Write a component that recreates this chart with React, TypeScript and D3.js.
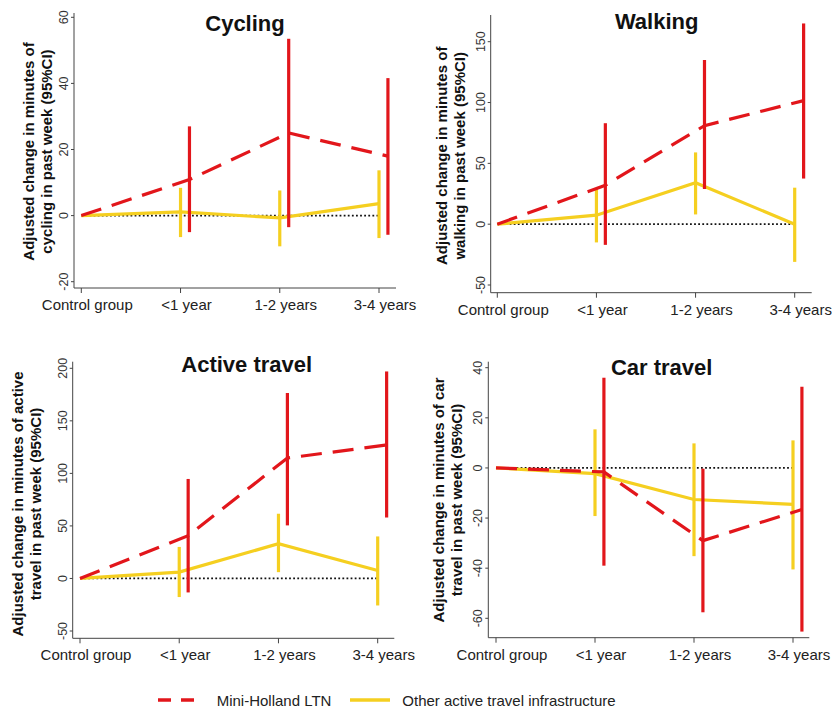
import React from "react";
import * as d3 from "d3";

// categories on the x axis
const categories = ["Control group", "<1 year", "1-2 years", "3-4 years"];

// Cycling
const cyclingMiniEst = [0, 10.9, 25, 18];
const cyclingMiniLo = [0, -5, -3.5, -5.8];
const cyclingMiniHi = [0, 27, 53.5, 41.6];
const cyclingOtherEst = [0, 1.1, -0.7, 3.6];
const cyclingOtherLo = [0, -6.5, -9.3, -6.8];
const cyclingOtherHi = [0, 8.4, 7.6, 13.7];
const cyclingTicks = [-20, 0, 20, 40, 60];

// Walking
const walkingMiniEst = [0, 32, 81, 101.6];
const walkingMiniLo = [0, -17, 29, 37.5];
const walkingMiniHi = [0, 83, 135, 165];
const walkingOtherEst = [0, 7.4, 34, 0];
const walkingOtherLo = [0, -15, 8, -31];
const walkingOtherHi = [0, 29, 59, 30];
const walkingTicks = [-50, 0, 50, 100, 150];

// Active travel
const activeMiniEst = [0, 40.7, 114.6, 127];
const activeMiniLo = [0, -13.3, 50.5, 58];
const activeMiniHi = [0, 94.7, 176.5, 197];
const activeOtherEst = [0, 6, 33, 7.6];
const activeOtherLo = [0, -17.7, 6, -25.7];
const activeOtherHi = [0, 30, 61.6, 40];
const activeTicks = [-50, 0, 50, 100, 150, 200];

// Car travel
const carMiniEst = [0, -1.6, -29, -16.6];
const carMiniLo = [0, -39, -57.6, -65.3];
const carMiniHi = [0, 36, -0.3, 32.4];
const carOtherEst = [0, -2.3, -12.6, -14.5];
const carOtherLo = [0, -19.2, -35.2, -40.5];
const carOtherHi = [0, 15.4, 9.8, 11];
const carTicks = [-60, -40, -20, 0, 20, 40];

const seriesNames = ["Mini-Holland LTN", "Other active travel infrastructure"];

const RED = "#e2161b";
const YELLOW = "#f5cf20";
const FONT = "'Liberation Sans', Arial, sans-serif";
const DODGE = 0.09; // red series drawn slightly right of the category

type Panel = {
  title: string;
  ylab: [string, string];
  ticks: number[];
  miniEst: number[]; miniLo: number[]; miniHi: number[];
  otherEst: number[]; otherLo: number[]; otherHi: number[];
  // layout
  ax: number; ab: number; at: number; ar: number;
  x0: number; x3: number;
  yTop: [number, number]; yBot: [number, number];
  titleX: number; titleY: number;
  labX1: number; labX2: number; labY: number;
};

const panels: Panel[] = [
  {
    title: "Cycling",
    ylab: ["Adjusted change in minutes of", "cycling in past week (95%CI)"],
    ticks: cyclingTicks,
    miniEst: cyclingMiniEst, miniLo: cyclingMiniLo, miniHi: cyclingMiniHi,
    otherEst: cyclingOtherEst, otherLo: cyclingOtherLo, otherHi: cyclingOtherHi,
    ax: 74, ab: 288, at: 13, ar: 396, x0: 81.3, x3: 379,
    yTop: [60, 17.3], yBot: [-20, 281.7],
    titleX: 245, titleY: 30.5, labX1: 33.5, labX2: 51.5, labY: 151.5,
  },
  {
    title: "Walking",
    ylab: ["Adjusted change in minutes of", "walking in past week (95%CI)"],
    ticks: walkingTicks,
    miniEst: walkingMiniEst, miniLo: walkingMiniLo, miniHi: walkingMiniHi,
    otherEst: walkingOtherEst, otherLo: walkingOtherLo, otherHi: walkingOtherHi,
    ax: 490.7, ab: 292.7, at: 15, ar: 811.7, x0: 497.3, x3: 794.7,
    yTop: [150, 41.7], yBot: [-50, 285],
    titleX: 656.7, titleY: 28.5, labX1: 447, labX2: 465, labY: 155.8,
  },
  {
    title: "Active travel",
    ylab: ["Adjusted change in minutes of active", "travel in past week (95%CI)"],
    ticks: activeTicks,
    miniEst: activeMiniEst, miniLo: activeMiniLo, miniHi: activeMiniHi,
    otherEst: activeOtherEst, otherLo: activeOtherLo, otherHi: activeOtherHi,
    ax: 72.7, ab: 638.3, at: 361.7, ar: 394.3, x0: 80, x3: 377.7,
    yTop: [200, 368.3], yBot: [-50, 631],
    titleX: 246.7, titleY: 371.5, labX1: 22.7, labX2: 41, labY: 504,
  },
  {
    title: "Car travel",
    ylab: ["Adjusted change in minutes of car", "travel in past week (95%CI)"],
    ticks: carTicks,
    miniEst: carMiniEst, miniLo: carMiniLo, miniHi: carMiniHi,
    otherEst: carOtherEst, otherLo: carOtherLo, otherHi: carOtherHi,
    ax: 488.3, ab: 637.7, at: 361.7, ar: 809.3, x0: 496, x3: 793,
    yTop: [40, 367.7], yBot: [-60, 618.3],
    titleX: 661.7, titleY: 374.5, labX1: 444.3, labX2: 462, labY: 500,
  },
];

const PanelChart = ({ p }: { p: Panel }) => {
  const x = d3.scaleLinear().domain([0, 3]).range([p.x0, p.x3]);
  const y = d3.scaleLinear().domain([p.yBot[0], p.yTop[0]]).range([p.yBot[1], p.yTop[1]]);
  const idx = d3.range(categories.length);
  const miniX = (i: number) => x(i === 0 ? 0 : i + DODGE);
  const line = d3.line<number>();
  const miniPath = line(idx.map(i => [miniX(i), y(p.miniEst[i])]) as any);
  const otherPath = line(idx.map(i => [x(i), y(p.otherEst[i])]) as any);

  return (
    <g>
      {/* axes */}
      <line x1={p.ax} x2={p.ax} y1={p.at} y2={p.ab} stroke="#444" strokeWidth={1} />
      <line x1={p.ax} x2={p.ar} y1={p.ab} y2={p.ab} stroke="#444" strokeWidth={1} />
      {p.ticks.map(t => (
        <g key={t}>
          <line x1={p.ax - 3} x2={p.ax} y1={y(t)} y2={y(t)} stroke="#444" />
          <text
            transform={`translate(${p.ax - 6},${y(t)}) rotate(-90)`}
            textAnchor="middle"
            fontSize={12.5}
            fill="#333"
            fontFamily={FONT}
          >
            {t}
          </text>
        </g>
      ))}
      {categories.map((c, i) => (
        <g key={c}>
          <line x1={x(i)} x2={x(i)} y1={p.ab} y2={p.ab + 5} stroke="#444" />
          <text x={x(i) + 6} y={p.ab + 22} textAnchor="middle" fontSize={15} fill="#222" fontFamily={FONT}>
            {c}
          </text>
        </g>
      ))}
      {/* axis title */}
      <text
        transform={`translate(${p.labX1},${p.labY}) rotate(-90)`}
        textAnchor="middle" fontSize={15} fontWeight="bold" fontFamily={FONT} fill="#111"
      >
        {p.ylab[0]}
      </text>
      <text
        transform={`translate(${p.labX2},${p.labY}) rotate(-90)`}
        textAnchor="middle" fontSize={15} fontWeight="bold" fontFamily={FONT} fill="#111"
      >
        {p.ylab[1]}
      </text>
      <text x={p.titleX} y={p.titleY} textAnchor="middle" fontSize={22} fontWeight="bold" fontFamily={FONT} fill="#111">
        {p.title}
      </text>
      {/* zero reference */}
      <line x1={x(0)} x2={x(3)} y1={y(0)} y2={y(0)} stroke="#111" strokeWidth={1.8} strokeDasharray="1.8,2.3" />
      {/* other infrastructure */}
      {idx.slice(1).map(i => (
        <line key={"oe" + i} x1={x(i)} x2={x(i)} y1={y(p.otherLo[i])} y2={y(p.otherHi[i])} stroke={YELLOW} strokeWidth={3.2} />
      ))}
      <path d={otherPath ?? ""} fill="none" stroke={YELLOW} strokeWidth={3.2} />
      {/* mini-holland */}
      {idx.slice(1).map(i => (
        <line key={"me" + i} x1={miniX(i)} x2={miniX(i)} y1={y(p.miniLo[i])} y2={y(p.miniHi[i])} stroke={RED} strokeWidth={3.2} />
      ))}
      <path d={miniPath ?? ""} fill="none" stroke={RED} strokeWidth={3.2} strokeDasharray="21,11" />
    </g>
  );
};

export default function App() {
  return (
    <svg width={832} height={711} style={{ position: "absolute", left: 0, top: 0, background: "#fff" }}>
      <rect width={832} height={711} fill="#fff" />
      {panels.map(p => <PanelChart key={p.title} p={p} />)}
      {/* legend */}
      <line x1={158} x2={195} y1={700} y2={700} stroke={RED} strokeWidth={3.5} strokeDasharray="13,10" />
      <text x={216.7} y={705.5} fontSize={15} fontFamily={FONT} fill="#222">{seriesNames[0]}</text>
      <line x1={350} x2={390} y1={700} y2={700} stroke={YELLOW} strokeWidth={3.5} />
      <text x={402.3} y={705.5} fontSize={15} fontFamily={FONT} fill="#222">{seriesNames[1]}</text>
    </svg>
  );
}
